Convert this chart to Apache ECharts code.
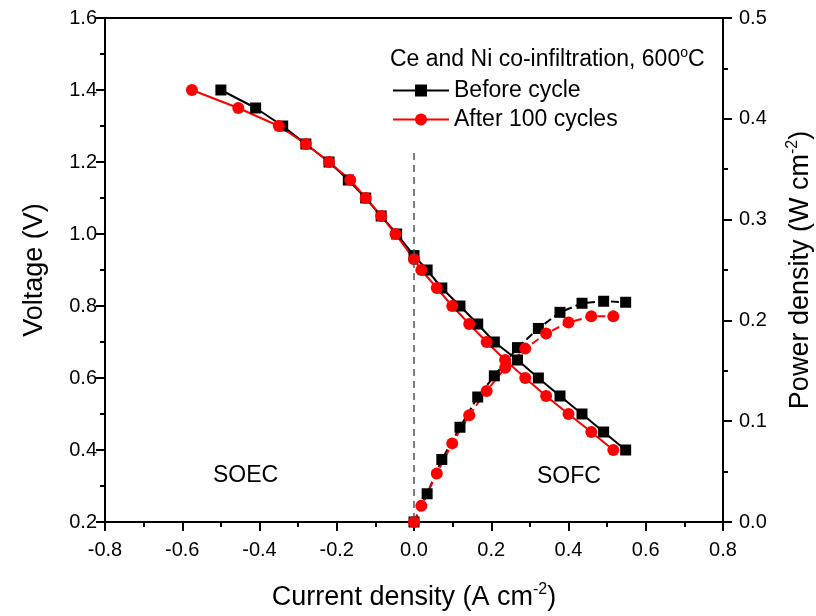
<!DOCTYPE html>
<html>
<head>
<meta charset="utf-8">
<script src="https://cdn.jsdelivr.net/npm/echarts@6/dist/echarts.min.js"></script>
<style>
  html, body { margin: 0; padding: 0; background: #fff; }
  #chart { width: 816px; height: 616px; }
</style>
</head>
<body>
<div id="chart"></div>
<script>
// current density (A cm-2) and voltage (V), before cycling
const beforeI = [-0.50, -0.41, -0.34, -0.28, -0.22, -0.17, -0.125, -0.085, -0.045, 0, 0.034, 0.072, 0.119, 0.165, 0.208, 0.268, 0.322, 0.378, 0.435, 0.491, 0.548];
const beforeV = [1.40, 1.35, 1.30, 1.25, 1.20, 1.15, 1.10, 1.05, 1.00, 0.94, 0.90, 0.85, 0.80, 0.75, 0.70, 0.65, 0.60, 0.55, 0.50, 0.45, 0.40];
// power density (W cm-2), SOFC side only (from I = 0)
const beforeP = [0, 0.028, 0.062, 0.094, 0.124, 0.145, 0.173, 0.192, 0.208, 0.217, 0.219, 0.218];

// after 100 cycles
const afterI = [-0.575, -0.455, -0.35, -0.28, -0.22, -0.165, -0.125, -0.085, -0.048, 0, 0.019, 0.059, 0.099, 0.143, 0.188, 0.236, 0.288, 0.342, 0.400, 0.459, 0.516];
const afterV = [1.40, 1.35, 1.30, 1.25, 1.20, 1.15, 1.10, 1.05, 1.00, 0.93, 0.90, 0.85, 0.80, 0.75, 0.70, 0.65, 0.60, 0.55, 0.50, 0.45, 0.40];
const afterP = [0, 0.016, 0.048, 0.078, 0.106, 0.130, 0.153, 0.172, 0.187, 0.198, 0.204, 0.204];

// dashed divider at I = 0 (top end, bottom end in V)
const dividerX = 0;
const dividerV = [1.225, 0.2];

const seriesNames = ["Before cycle", "After 100 cycles"];

const FONT = "Liberation Sans, Arial, sans-serif";

const pairs = (xs, ys) => ys.map((y, i) => [xs[i], y]);
const sofc = (xs) => xs.slice(xs.indexOf(0));

let chart = echarts.init(document.getElementById("chart"));

const supRich = { s: { fontSize: 16, verticalAlign: "top", lineHeight: 32, fontFamily: FONT, color: "#000" } };

let option = {
  animation: false,
  backgroundColor: "#fff",
  textStyle: { fontFamily: FONT, color: "#000" },
  title: {
    left: 385,
    top: 41,
    text: "Ce and Ni co-infiltration, 600{s|o}C",
    textStyle: {
      fontFamily: FONT,
      fontWeight: "normal",
      fontSize: 23,
      color: "#000",
      lineHeight: 28,
      rich: {
        s: { fontSize: 14, verticalAlign: "top", lineHeight: 28, fontFamily: FONT, color: "#000" },
      },
    },
  },
  legend: {
    orient: "vertical",
    left: 387,
    top: 74,
    itemWidth: 56,
    itemHeight: 15,
    itemGap: 6,
    data: seriesNames,
    textStyle: { fontFamily: FONT, fontSize: 23, color: "#000" },
  },
  grid: {
    left: 105,
    right: 93,
    top: 18,
    bottom: 94,
    outerBoundsMode: "none",
    containLabel: false,
    show: true,
    borderColor: "#000",
    borderWidth: 2,
  },
  xAxis: {
    type: "value",
    min: -0.8,
    max: 0.8,
    interval: 0.2,
    name: "Current density (A cm{s|-2})",
    nameLocation: "middle",
    nameGap: 60,
    nameTextStyle: {
      fontFamily: FONT,
      fontSize: 27,
      color: "#000",
      lineHeight: 32,
      rich: supRich,
    },
    axisLine: { onZero: false, lineStyle: { color: "#000", width: 2 } },
    axisTick: { length: 9, lineStyle: { width: 2, color: "#000" } },
    minorTick: { show: true, splitNumber: 2, length: 5, lineStyle: { width: 2, color: "#000" } },
    splitLine: { show: false },
    axisLabel: {
      margin: 18,
      fontSize: 20,
      fontFamily: FONT,
      color: "#000",
      formatter: (v) => v.toFixed(1),
    },
  },
  yAxis: [
    {
      type: "value",
      min: 0.2,
      max: 1.6,
      interval: 0.2,
      name: "Voltage (V)",
      nameLocation: "middle",
      nameRotate: 90,
      nameGap: 57,
      nameTextStyle: { fontFamily: FONT, fontSize: 27, color: "#000" },
      axisLine: { onZero: false, lineStyle: { color: "#000", width: 2 } },
      axisTick: { length: 9, lineStyle: { width: 2, color: "#000" } },
      minorTick: { show: true, splitNumber: 2, length: 5, lineStyle: { width: 2, color: "#000" } },
      splitLine: { show: false },
      axisLabel: {
        margin: 8,
        fontSize: 20,
        fontFamily: FONT,
        color: "#000",
        formatter: (v) => v.toFixed(1),
      },
    },
    {
      type: "value",
      position: "right",
      min: 0,
      max: 0.5,
      interval: 0.1,
      name: "Power density (W cm{s|-2})",
      nameLocation: "middle",
      nameRotate: 90,
      nameGap: 62,
      nameTextStyle: {
        fontFamily: FONT,
        fontSize: 27,
        color: "#000",
        lineHeight: 32,
        rich: supRich,
      },
      axisLine: { onZero: false, lineStyle: { color: "#000", width: 2 } },
      axisTick: { length: 9, lineStyle: { width: 2, color: "#000" } },
      minorTick: { show: true, splitNumber: 2, length: 5, lineStyle: { width: 2, color: "#000" } },
      splitLine: { show: false },
      axisLabel: {
        margin: 16,
        fontSize: 20,
        fontFamily: FONT,
        color: "#000",
        formatter: (v) => v.toFixed(1),
      },
    },
  ],
  graphic: [
    { type: "text", left: 213, top: 464, style: { text: "SOEC", fontFamily: FONT, fontSize: 23, fill: "#000" } },
    { type: "text", left: 537, top: 465, style: { text: "SOFC", fontFamily: FONT, fontSize: 23, fill: "#000" } },
  ],
  series: [
    {
      name: seriesNames[0],
      type: "line",
      yAxisIndex: 0,
      symbol: "rect",
      symbolSize: 11,
      color: "#000",
      lineStyle: { width: 2, color: "#000" },
      itemStyle: { color: "#000" },
      data: pairs(beforeI, beforeV),
      markLine: {
        silent: true,
        symbol: "none",
        label: { show: false },
        lineStyle: { color: "#555", type: [7, 5], width: 1.5 },
        data: [[{ coord: [dividerX, dividerV[0]] }, { coord: [dividerX, dividerV[1]] }]],
      },
    },
    {
      name: "Before cycle P",
      type: "line",
      yAxisIndex: 1,
      symbol: "rect",
      symbolSize: 11,
      color: "#000",
      lineStyle: { width: 2, color: "#000", type: [8, 4] },
      itemStyle: { color: "#000" },
      data: pairs(sofc(beforeI), beforeP),
    },
    {
      name: seriesNames[1],
      type: "line",
      yAxisIndex: 0,
      symbol: "circle",
      symbolSize: 12,
      color: "#ff0000",
      lineStyle: { width: 2, color: "#ff0000" },
      itemStyle: { color: "#ff0000" },
      data: pairs(afterI, afterV),
    },
    {
      name: "After 100 cycles P",
      type: "line",
      yAxisIndex: 1,
      symbol: "circle",
      symbolSize: 12,
      color: "#ff0000",
      lineStyle: { width: 2, color: "#ff0000", type: [8, 4] },
      itemStyle: { color: "#ff0000" },
      data: pairs(sofc(afterI), afterP),
    },
  ],
};
chart.setOption(option);
</script>
</body>
</html>
